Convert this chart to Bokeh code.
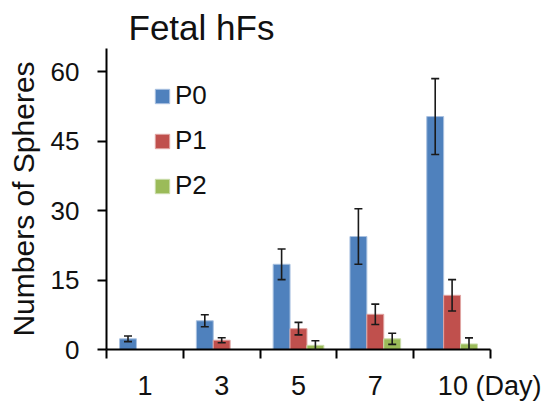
from bokeh.plotting import figure
from bokeh.models import (ColumnDataSource, Range1d, FixedTicker, Whisker, TeeHead,
                          Legend, LegendItem, Title)
from bokeh.transform import dodge
from bokeh.embed import file_html
from bokeh.resources import INLINE

days = ["1", "3", "5", "7", "10"]
series = ["P0", "P1", "P2"]
p0 = [2.3, 6.2, 18.4, 24.4, 50.3]
p0_err = [0.6, 1.3, 3.3, 6.0, 8.2]
p1 = [0.0, 2.0, 4.5, 7.6, 11.7]
p1_err = [0.0, 0.55, 1.35, 2.2, 3.4]
p2 = [0.0, 0.0, 0.9, 2.3, 1.2]
p2_err = [0.0, 0.0, 1.0, 1.2, 1.3]
y_ticks = [0, 15, 30, 45, 60]
colors = ["#4F81BD", "#C0504D", "#9BBB59"]
edge_colors = ["#a9c1e0", "#e0a5a3", "#cadcaa"]
x_unit = "(Day)"

FONT = "Liberation Sans"
xc = [i + 0.5 for i in range(len(days))]

p = figure(width=556, height=403, output_backend="svg", toolbar_location=None,
           x_range=Range1d(0, len(days)), y_range=Range1d(0, 65),
           min_border_left=106, min_border_right=66, min_border_top=48, min_border_bottom=53)
p.title = Title(text="Fetal hFs", align="left", offset=22, standoff=4,
                text_font=FONT, text_font_size="35px", text_font_style="normal",
                text_color="#111111")
p.outline_line_color = None
p.xgrid.visible = False
p.ygrid.visible = False

offsets = [-0.22, 0.0, 0.22]
items = []
for name, vals, errs, col, ecol, off in zip(series, [p0, p1, p2], [p0_err, p1_err, p2_err],
                                            colors, edge_colors, offsets):
    src = ColumnDataSource(dict(x=xc, top=vals))
    r = p.vbar(x=dodge("x", off, range=p.x_range), top="top", width=0.22, source=src,
               fill_color=col, line_color=ecol, line_width=1)
    items.append(LegendItem(label=name, renderers=[r]))
    keep = [i for i, v in enumerate(vals) if v > 0]
    esrc = ColumnDataSource(dict(
        x=[xc[i] for i in keep],
        upper=[vals[i] + errs[i] for i in keep],
        lower=[vals[i] - errs[i] for i in keep]))
    w = Whisker(base=dodge("x", off, range=p.x_range), upper="upper", lower="lower", source=esrc,
                line_color="#1a1a1a", line_width=1.6, level="overlay",
                upper_head=TeeHead(size=8, line_color="#1a1a1a", line_width=1.6),
                lower_head=TeeHead(size=8, line_color="#1a1a1a", line_width=1.6))
    p.add_layout(w)

legend = Legend(items=items, location=(47, 148), border_line_color=None,
                background_fill_alpha=0, padding=0, margin=0,
                label_text_font=FONT, label_text_font_size="26px",
                label_text_color="#111111",
                glyph_width=18, glyph_height=18, label_standoff=4, spacing=14)
p.add_layout(legend, "center")

# y axis
p.yaxis.ticker = FixedTicker(ticks=y_ticks)
p.yaxis.axis_line_width = 2
p.yaxis.major_tick_line_width = 2
p.yaxis.major_tick_out = 9
p.yaxis.major_tick_in = 0
p.yaxis.minor_tick_line_color = None
p.yaxis.major_label_text_font = FONT
p.yaxis.major_label_text_font_size = "26px"
p.yaxis.major_label_text_color = "#111111"
p.yaxis.major_label_standoff = 18
p.yaxis.axis_label = "Numbers of Spheres"
p.yaxis.axis_label_text_font = FONT
p.yaxis.axis_label_text_font_size = "30px"
p.yaxis.axis_label_text_font_style = "normal"
p.yaxis.axis_label_text_color = "#111111"
p.yaxis.axis_label_standoff = 8

# x axis: labels at category centres, tick marks at category boundaries
labels = {x: d for x, d in zip(xc, days)}
pad = "\u2007" * 5
labels[xc[-1]] = pad + days[-1] + " " + x_unit
p.xaxis.ticker = FixedTicker(ticks=xc, minor_ticks=list(range(len(days) + 1)))
p.xaxis.major_label_overrides = labels
p.xaxis.axis_line_width = 2
p.xaxis.major_tick_out = 0
p.xaxis.major_tick_in = 0
p.xaxis.minor_tick_line_width = 2
p.xaxis.minor_tick_line_color = "black"
p.xaxis.minor_tick_out = 9
p.xaxis.minor_tick_in = 0
p.xaxis.major_label_text_font = FONT
p.xaxis.major_label_text_font_size = "27px"
p.xaxis.major_label_text_color = "#111111"
p.xaxis.major_label_standoff = 12

open("out.html", "w").write(file_html(p, INLINE))
